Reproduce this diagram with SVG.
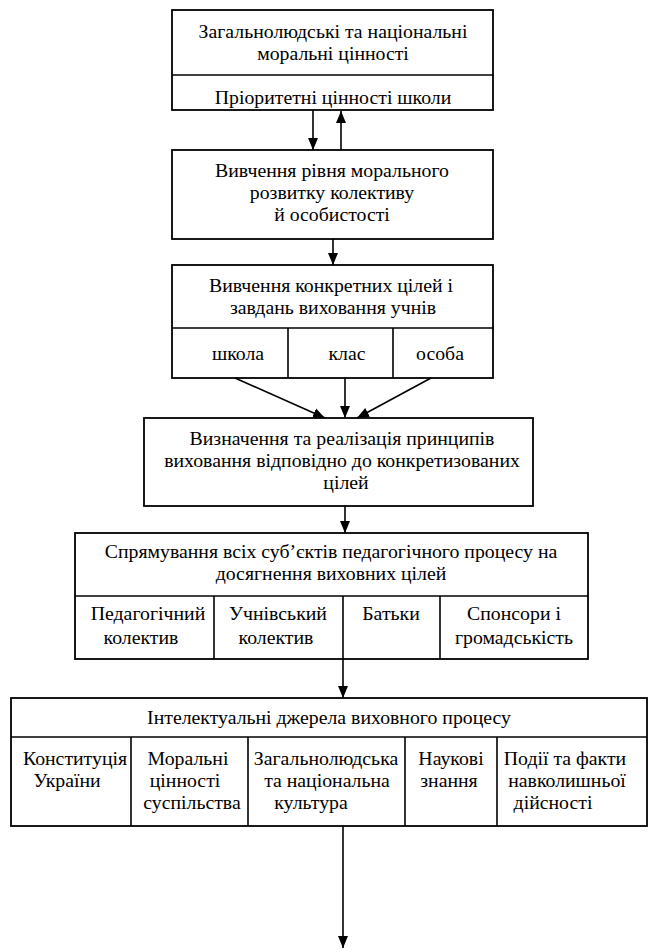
<svg xmlns="http://www.w3.org/2000/svg" width="655" height="952" viewBox="0 0 655 952">
<style>
.box{fill:#fff;stroke:#000;stroke-width:1.8}
.div{stroke:#000;stroke-width:1.6;fill:none}
.t{font-family:"Liberation Serif","Times New Roman",serif;font-size:19.8px;fill:#000;text-anchor:middle}
.c{stroke:#000;stroke-width:1.6;fill:none}
</style>
<defs>
<marker id="ah" markerUnits="userSpaceOnUse" markerWidth="12" markerHeight="12" viewBox="0 0 12 12" refX="12" refY="6" orient="auto">
<path d="M0,1 L12,6 L0,11 Z" fill="#000"/>
</marker>
</defs>
<rect width="655" height="952" fill="#fff"/>
<g id="n1">
<rect class="box" x="172" y="10" width="321" height="100"/>
<line class="div" x1="172" y1="75" x2="493" y2="75"/>
<text class="t" x="333" y="38">Загальнолюдські та національні</text>
<text class="t" x="333" y="60">моральні цінності</text>
<text class="t" x="333" y="104">Пріоритетні цінності школи</text>
</g>
<g id="n2">
<rect class="box" x="172" y="150" width="321" height="89"/>
<text class="t" x="332" y="177">Вивчення рівня морального</text>
<text class="t" x="332" y="199">розвитку колективу</text>
<text class="t" x="332" y="221">й особистості</text>
</g>
<g id="n3">
<rect class="box" x="172" y="265" width="321" height="113"/>
<line class="div" x1="172" y1="328" x2="493" y2="328"/>
<line class="div" x1="288" y1="328" x2="288" y2="378"/>
<line class="div" x1="393" y1="328" x2="393" y2="378"/>
<text class="t" x="331" y="292">Вивчення конкретних цілей і</text>
<text class="t" x="333" y="314">завдань виховання  учнів</text>
<text class="t" x="238" y="360">школа</text>
<text class="t" x="347" y="360">клас</text>
<text class="t" x="440" y="360">особа</text>
</g>
<g id="n4">
<rect class="box" x="144" y="418" width="389" height="88"/>
<text class="t" x="342" y="445">Визначення та реалізація принципів</text>
<text class="t" x="342" y="467">виховання відповідно до конкретизованих</text>
<text class="t" x="346" y="489">цілей</text>
</g>
<g id="n5">
<rect class="box" x="75" y="533" width="513" height="126"/>
<line class="div" x1="75" y1="596" x2="588" y2="596"/>
<line class="div" x1="214" y1="596" x2="214" y2="659"/>
<line class="div" x1="343" y1="596" x2="343" y2="659"/>
<line class="div" x1="440" y1="596" x2="440" y2="659"/>
<text class="t" x="331" y="558">Спрямування всіх суб’єктів педагогічного процесу на</text>
<text class="t" x="331" y="580">досягнення виховних цілей</text>
<text class="t" x="148" y="620">Педагогічний</text>
<text class="t" x="141" y="644">колектив</text>
<text class="t" x="278" y="620">Учнівський</text>
<text class="t" x="276" y="644">колектив</text>
<text class="t" x="391" y="620">Батьки</text>
<text class="t" x="514" y="620">Спонсори і</text>
<text class="t" x="514" y="644">громадськість</text>
</g>
<g id="n6">
<rect class="box" x="11" y="698" width="636" height="128"/>
<line class="div" x1="11" y1="737" x2="647" y2="737"/>
<line class="div" x1="131" y1="737" x2="131" y2="826"/>
<line class="div" x1="248" y1="737" x2="248" y2="826"/>
<line class="div" x1="405" y1="737" x2="405" y2="826"/>
<line class="div" x1="497" y1="737" x2="497" y2="826"/>
<text class="t" x="329" y="724">Інтелектуальні джерела виховного процесу</text>
<text class="t" x="75" y="765">Конституція</text>
<text class="t" x="67" y="787">України</text>
<text class="t" x="188" y="765">Моральні</text>
<text class="t" x="185" y="787">цінності</text>
<text class="t" x="192" y="809">суспільства</text>
<text class="t" x="326" y="765">Загальнолюдська</text>
<text class="t" x="327" y="787">та національна</text>
<text class="t" x="311" y="809">культура</text>
<text class="t" x="451" y="765">Наукові</text>
<text class="t" x="449" y="787">знання</text>
<text class="t" x="565" y="765">Події та факти</text>
<text class="t" x="567" y="787">навколишньої</text>
<text class="t" x="553" y="809">дійсності</text>
</g>
<g id="connectors">
<line class="c" x1="313" y1="110" x2="313" y2="150" marker-end="url(#ah)"/>
<line class="c" x1="341" y1="150" x2="341" y2="111" marker-end="url(#ah)"/>
<line class="c" x1="333" y1="239" x2="333" y2="265" marker-end="url(#ah)"/>
<line class="c" x1="235" y1="378" x2="325" y2="418" marker-end="url(#ah)"/>
<line class="c" x1="345" y1="378" x2="345" y2="418" marker-end="url(#ah)"/>
<line class="c" x1="431" y1="378" x2="357" y2="418" marker-end="url(#ah)"/>
<line class="c" x1="345" y1="506" x2="345" y2="533" marker-end="url(#ah)"/>
<line class="c" x1="343" y1="659" x2="343" y2="698" marker-end="url(#ah)"/>
<line class="c" x1="343" y1="826" x2="343" y2="948" marker-end="url(#ah)"/>
</g>
</svg>
